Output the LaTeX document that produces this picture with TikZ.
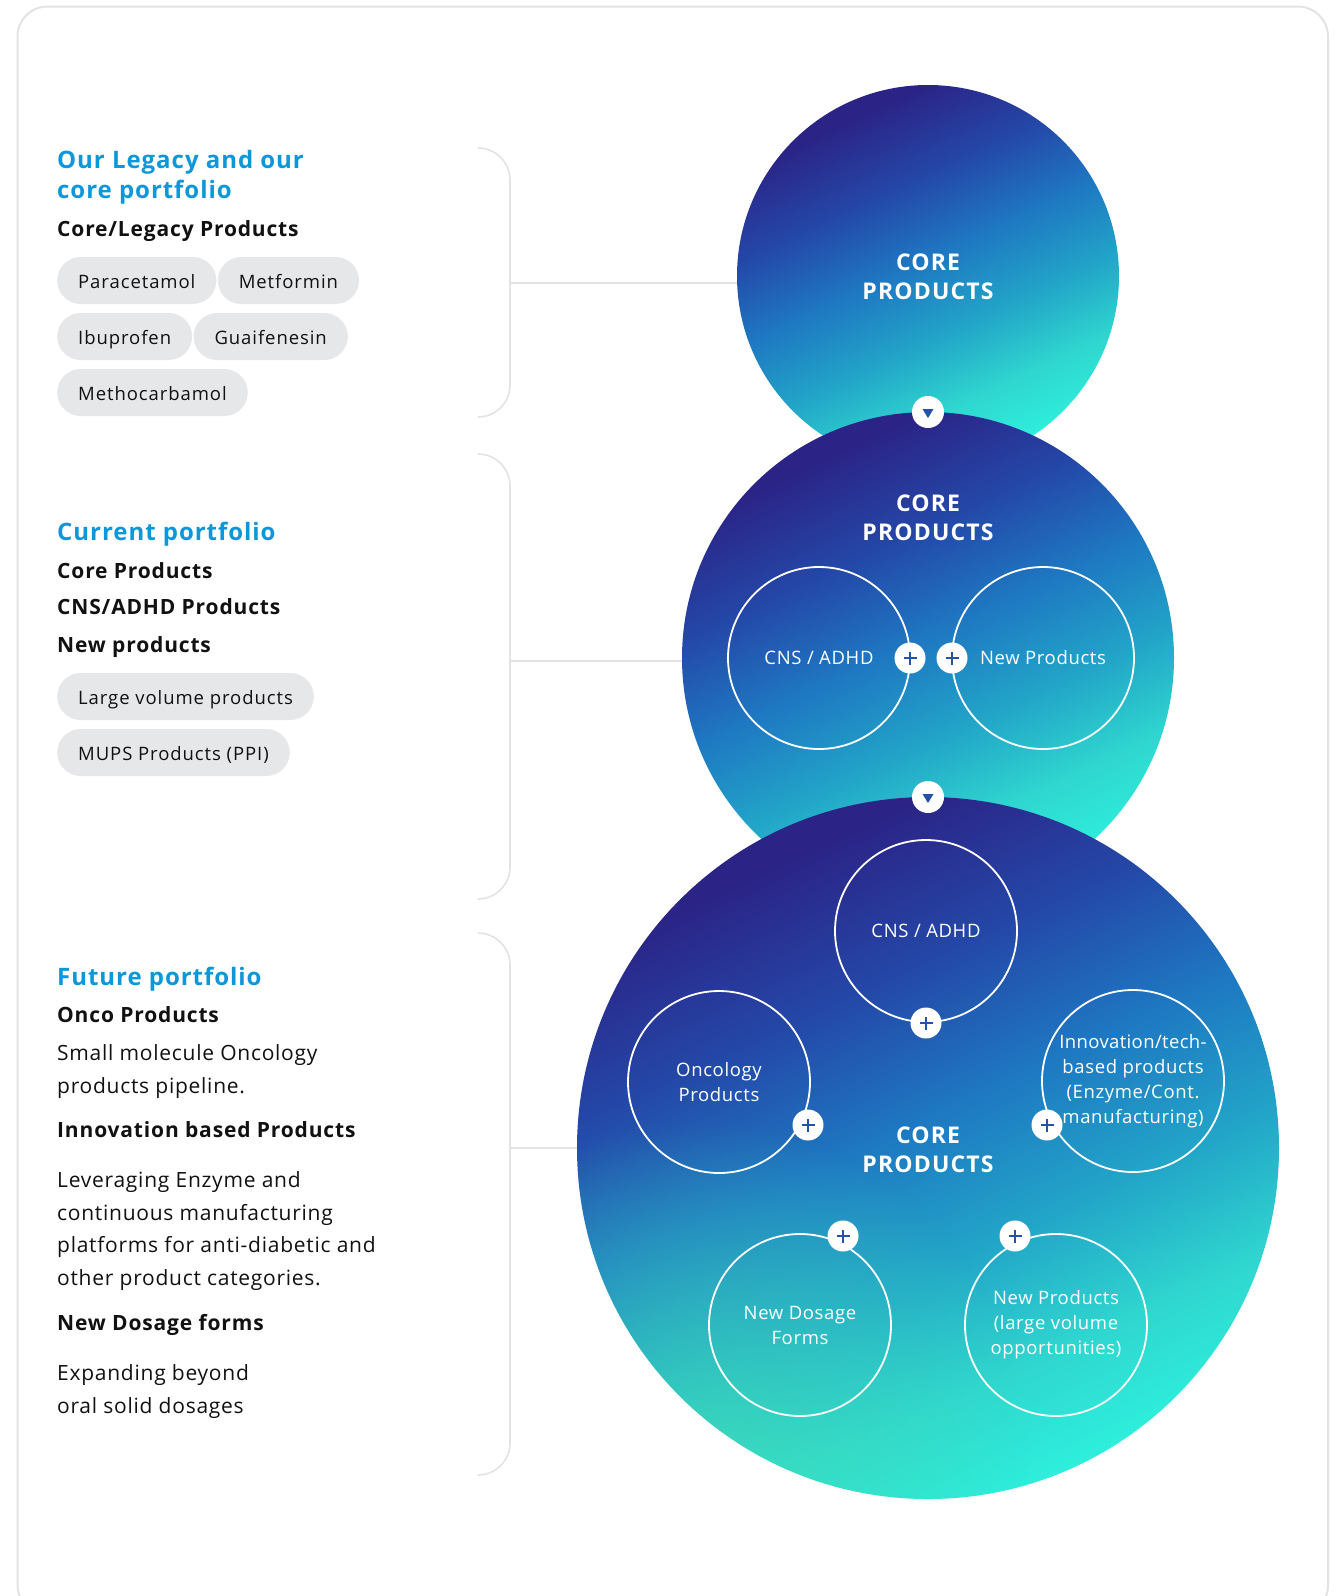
\documentclass[tikz,border=0pt]{standalone}
\usepackage{fontspec}
\setmainfont{Open Sans}
\usetikzlibrary{positioning,fadings}

\definecolor{headblue}{HTML}{0A98DA}
\definecolor{pillgray}{HTML}{E6E7E9}
\definecolor{linegray}{HTML}{E3E3E5}
\definecolor{inkblack}{HTML}{111111}
\definecolor{navy}{HTML}{2B2386}
\definecolor{royal}{HTML}{2448A8}
\definecolor{midblue}{HTML}{1E78C2}
\definecolor{skyblue}{HTML}{22A5C8}
\definecolor{teal}{HTML}{2FD6CF}
\definecolor{aqua}{HTML}{2EEFDC}
\definecolor{mint}{HTML}{40E3B8}
\definecolor{markblue}{HTML}{2452AA}

\pgfdeclareverticalshading{coregrad}{100bp}{color(0bp)=(aqua); color(25bp)=(aqua); color(33bp)=(teal); color(42bp)=(skyblue); color(52bp)=(midblue); color(62bp)=(royal); color(73bp)=(navy); color(100bp)=(navy)}
\tikzfading[name=glowfade, inner color=transparent!30, outer color=transparent!100]

\tikzset{
  heading/.style={anchor=base west, inner sep=0, text=headblue, align=left,
    font=\fontsize{24}{29.5}\selectfont\bfseries\addfontfeatures{LetterSpace=4}},
  subhead/.style={anchor=base west, inner sep=0, text=inkblack,
    font=\fontsize{21}{32.5}\selectfont\bfseries\addfontfeatures{LetterSpace=4}},
  bodytext/.style={anchor=base west, inner sep=0, text=inkblack, align=left,
    font=\fontsize{21}{32.5}\selectfont\addfontfeatures{LetterSpace=3.5}},
  pill/.style={fill=pillgray, rounded corners=23.5, minimum height=47, inner xsep=21,
    inner ysep=0, text height=17, text depth=2, text=inkblack,
    font=\fontsize{18.5}{22}\selectfont\addfontfeatures{LetterSpace=5}},
  bracket/.style={linegray, line width=1.6},
  corelabel/.style={text=white, align=center,
    font=\fontsize{23}{29.5}\selectfont\bfseries\addfontfeatures{LetterSpace=5}},
  plusbadge/.style={circle, fill=white, minimum size=31, inner sep=0,
    path picture={\draw[markblue, line width=2.2]
      ([xshift=-6.5pt]path picture bounding box.center) -- ([xshift=6.5pt]path picture bounding box.center)
      ([yshift=-6.5pt]path picture bounding box.center) -- ([yshift=6.5pt]path picture bounding box.center);}},
  downmark/.style={circle, fill=white, minimum size=32, inner sep=0,
    path picture={\fill[markblue]
      ([shift={(-5.5pt,3pt)}]path picture bounding box.center) -- ([shift={(5.5pt,3pt)}]path picture bounding box.center)
      -- ([shift={(0pt,-6pt)}]path picture bounding box.center) -- cycle;}}
}

\begin{document}
\begin{tikzpicture}[x=1pt,y=-1pt]

  \useasboundingbox (0,0) rectangle (1337,1596);
  \draw[linegray, line width=2, rounded corners=30] (17.5,6.5) rectangle (1328,1615);

  % the three nested circles
  \begin{scope}[every node/.style={circle, inner sep=0, shading=coregrad, shading angle=25}]
    \node[minimum size=382] (core1) at (928,276) {};
    \node[minimum size=492] (core2) at (928,658) {};
    \node[minimum size=702] (core3) at (928,1148) {};
  \end{scope}
  % green glow low on the left of the big one
  \begin{scope}
    \clip (928,1148) circle (351);
    \fill[mint, path fading=glowfade] (700,1450) circle (330);
  \end{scope}

  \node[corelabel] (label1) at (928,277) {CORE\\PRODUCTS};
  \node[corelabel] (label2) at (928,518) {CORE\\PRODUCTS};
  \node[corelabel] (label3) at (928,1150) {CORE\\PRODUCTS};

  % brackets on the left
  \begin{scope}[bracket, rounded corners=32]
    \draw (478,148) -- (510,148) -- (510,417) -- (478,417);
    \draw (478,454) -- (510,454) -- (510,899) -- (478,899);
    \draw (478,933) -- (510,933) -- (510,1475) -- (478,1475);
  \end{scope}
  \coordinate (tie1) at (510,283);
  \coordinate (tie2) at (510,661);
  \coordinate (tie3) at (510,1148);
  \draw[bracket] (tie1) -- (tie1 -| core1.west);
  \draw[bracket] (tie2) -- (tie2 -| core2.west);
  \draw[bracket] (tie3) -- (core3.west);

  % inner circles
  \begin{scope}[every node/.style={circle, draw=white, line width=1.8, minimum size=182,
      inner sep=0, text=white, align=center,
      font=\fontsize{18.5}{25}\selectfont\addfontfeatures{LetterSpace=3.5}}]
    \node (cns2)  at (819,658)   {CNS / ADHD};
    \node (new2)  at (1043,658)  {New Products};
    \node (cns3)  at (926,931)   {CNS / ADHD};
    \node (onco)  at (719,1082)  {Oncology\\Products};
    \node (innov) at (1133,1081) {\addfontfeatures{LetterSpace=2}Innovation/tech-\\based products\\(Enzyme/Cont.\\manufacturing)};
    \node (dose)  at (800,1325)  {New Dosage\\Forms};
    \node (large) at (1056,1325) {New Products\\(large volume\\opportunities)};
  \end{scope}

  \begin{scope}[every node/.style={plusbadge}]
    \node (p1) at (910,658)   {};
    \node (p2) at (952,658)   {};
    \node (p3) at (926,1023)  {};
    \node (p4) at (808,1125)  {};
    \node (p5) at (1047,1125) {};
    \node (p6) at (843,1236)  {};
    \node (p7) at (1015,1236) {};
  \end{scope}

  \node[downmark] (m1) at (928,412) {};
  \node[downmark] (m2) at (928,797) {};

  % legacy block (multi-line nodes sit on their last baseline)
  \node[heading] (legacy) at (57,198) {Our Legacy and our\\core portfolio};
  \node[subhead] (legacysub) at (57,236) {Core/Legacy Products};
  \begin{scope}[every node/.style={pill}]
    \node[anchor=west] (para) at (57,280.5) {Paracetamol};
    \node[right=1pt of para] (metf) {Metformin};
    \node[anchor=west] (ibu) at (57,336.5) {Ibuprofen};
    \node[right=1pt of ibu] (guai) {Guaifenesin};
    \node[anchor=west] (metho) at (57,392.5) {Methocarbamol};
  \end{scope}

  % current block
  \node[heading] (current) at (57,540) {Current portfolio};
  \node[subhead] (cursub1) at (57,578) {Core Products};
  \node[subhead] (cursub2) at (57,614) {CNS/ADHD Products};
  \node[subhead] (cursub3) at (57,652) {New products};
  \begin{scope}[every node/.style={pill}]
    \node[anchor=west] (bulk) at (57,696.5) {Large volume products};
    \node[anchor=west] (mups) at (57,752.5) {MUPS Products (PPI)};
  \end{scope}

  % future block
  \node[heading] (future) at (57,985) {Future portfolio};
  \node[subhead] (futsub1) at (57,1022) {Onco Products};
  \node[bodytext] (futtext1) at (57,1093) {Small molecule Oncology\\products pipeline.};
  \node[subhead] (futsub2) at (57,1137) {Innovation based Products};
  \node[bodytext] (futtext2) at (57,1285) {Leveraging Enzyme and\\continuous manufacturing\\platforms for anti-diabetic and\\other product categories.};
  \node[subhead] (futsub3) at (57,1330) {New Dosage forms};
  \node[bodytext] (futtext3) at (57,1413) {Expanding beyond\\oral solid dosages};

\end{tikzpicture}
\end{document}
